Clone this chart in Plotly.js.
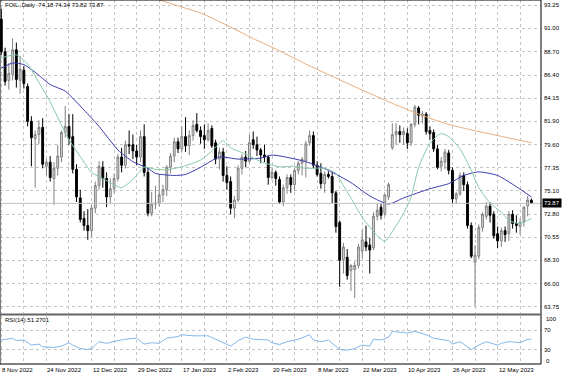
<!DOCTYPE html>
<html>
<head>
<meta charset="utf-8">
<script src="https://cdn.plot.ly/plotly-3.0.1.min.js"></script>
<style>html,body{margin:0;padding:0;background:#fff;}#chart{width:564px;height:376px;}</style>
</head>
<body>
<div id="chart"></div>
<script>
// ---- Data ----
const dateLabels = ["8 Nov 2022","24 Nov 2022","12 Dec 2022","29 Dec 2022","17 Jan 2023","2 Feb 2023","20 Feb 2023","8 Mar 2023","22 Mar 2023","10 Apr 2023","26 Apr 2023","12 May 2023"];
const labelBars = [0,12,24,36,48,60,72,84,96,108,120,132];

const open = [91.9,88.7,85.9,86.5,88.9,85.9,86.9,85.3,81.9,80.2,80.6,81.3,77.5,77.9,76.3,77.3,78.4,80.8,81.4,80.4,
77.2,74.4,72.4,71.7,71.2,73.4,75.6,77.4,76.3,74.5,75.3,76.3,78.4,77.6,79.6,79.6,79.0,78.4,80.4,76.9,
72.9,73.8,73.9,74.7,75.2,77.4,78.5,79.9,79.2,80.4,79.5,80.5,81.6,81.0,80.5,80.1,81.2,79.8,78.2,78.9,
76.6,76.0,73.4,74.2,77.3,78.4,78.0,80.1,79.6,79.1,78.6,78.4,76.4,76.9,76.2,74.0,75.4,76.4,75.7,77.1,
77.8,78.0,79.8,80.5,77.6,76.8,75.8,76.7,76.5,74.9,72.0,68.4,68.6,67.3,67.4,67.8,69.2,70.1,69.8,69.5,
72.6,73.5,72.9,74.5,79.3,80.6,80.9,80.6,80.7,79.8,81.6,83.2,82.4,82.6,81.0,80.8,79.2,77.5,77.9,78.8,
77.1,74.3,74.8,76.6,75.7,71.7,68.1,68.7,71.5,72.6,73.6,72.8,70.9,70.2,71.2,70.9,72.8,71.9,71.6,72.1,
73.6,74.18];
const high = [92.9,89.1,87.6,90.0,89.6,88.3,87.3,85.6,82.4,81.0,82.0,82.2,78.2,78.5,77.9,79.6,81.0,83.4,82.6,82.6,
77.7,75.2,73.1,73.3,73.7,76.0,78.0,78.0,76.9,76.3,76.8,78.7,79.3,80.0,81.0,80.6,79.6,81.0,81.6,77.4,
75.0,75.6,76.7,75.7,77.6,78.8,80.3,80.3,81.4,82.3,81.0,82.0,82.7,81.4,81.6,81.7,81.5,80.1,79.3,79.3,
77.5,76.5,74.6,77.6,78.7,79.0,80.6,80.9,80.4,79.3,79.6,78.6,77.3,77.1,76.5,75.7,76.7,76.7,77.3,78.0,
78.4,80.0,81.0,80.9,78.0,77.8,77.0,77.0,77.0,75.1,72.2,70.0,69.4,67.9,68.2,69.9,71.3,71.7,70.5,73.0,
73.9,73.8,74.8,75.9,81.7,81.7,81.5,81.3,81.2,81.7,83.5,83.4,82.9,82.8,81.4,81.1,79.6,78.4,79.2,79.1,
77.4,75.0,76.9,76.9,76.0,72.0,69.8,71.8,73.0,74.0,74.0,73.1,71.6,71.5,71.6,73.1,73.2,72.7,72.4,73.6,
74.6,74.34];
const low = [88.4,85.4,85.0,85.9,85.2,84.6,85.1,81.4,77.5,75.4,79.7,77.3,76.6,76.0,73.7,76.6,77.9,80.3,79.6,76.8,
74.0,72.0,71.2,70.3,70.6,72.9,75.2,75.4,73.5,73.9,74.9,76.0,76.9,77.3,78.7,78.2,77.6,77.9,76.5,72.6,
72.6,73.3,73.6,74.0,74.6,76.8,77.9,78.8,78.9,78.9,78.6,80.0,80.8,79.7,79.2,79.9,79.3,77.7,77.2,76.0,
75.2,72.8,72.4,74.0,76.7,77.4,77.8,79.2,78.5,77.8,77.9,75.7,76.2,75.6,73.8,73.6,74.8,74.9,75.1,76.7,
76.6,76.4,79.5,77.3,76.5,75.3,74.9,76.3,73.9,71.0,65.7,67.0,66.4,65.3,64.6,67.5,68.5,69.2,67.0,69.3,
72.2,72.3,72.6,74.2,79.1,79.6,79.8,79.6,79.2,79.5,81.3,81.6,81.7,80.6,80.1,78.9,77.2,77.0,77.2,76.7,
73.9,73.8,74.6,75.1,71.4,68.5,63.8,68.4,71.1,72.3,72.0,70.4,69.5,69.6,70.1,70.2,71.4,71.0,70.8,71.6,
72.6,73.82];
const close = [88.7,85.8,86.6,88.9,86.0,87.0,85.6,81.9,80.3,80.6,81.3,77.7,77.9,76.4,77.3,78.5,80.8,81.4,80.2,77.2,
74.5,72.3,71.7,71.2,73.4,75.6,77.5,76.3,74.5,75.3,76.3,78.4,77.6,79.6,79.5,79.0,78.4,80.4,76.9,72.9,
73.8,73.9,74.7,75.2,77.4,78.5,79.9,79.2,80.4,79.5,80.5,81.5,81.0,80.4,80.1,81.0,79.5,78.2,78.9,76.6,
75.9,73.4,74.2,77.3,78.4,78.0,79.8,79.6,79.1,78.6,78.4,76.4,76.9,76.3,74.0,75.4,76.4,75.7,77.1,77.8,
78.2,79.7,80.5,77.6,76.7,75.8,76.7,76.5,74.9,71.6,68.3,69.6,66.8,67.8,67.8,69.6,70.3,69.6,69.3,72.6,
73.2,72.7,74.7,75.7,80.6,80.9,80.6,80.9,79.8,81.6,83.3,82.5,82.6,80.9,80.7,79.2,77.4,78.0,78.9,77.1,
74.3,74.8,76.6,75.7,71.7,68.7,68.8,71.5,72.8,73.6,72.7,70.7,70.2,71.2,70.8,72.8,71.9,71.7,72.0,73.5,
74.2,73.87];

// short moving average (green), read at sampled bars
const maFastBars = [0,4,7,10,13,16,18,22,24,27,30,32,35,38,41,44,48,53,56,59,61,65,69,74,78,81,86,89,91,93,96,100,102,104,107,109,111,114,117,119,122,125,127,130,133,135,138,141];
const maFast = [88.1,88.4,87.5,85.7,83.8,81.5,80.1,77.9,76.9,76.3,75.7,75.4,76.2,77.4,77.2,77.15,77.45,78.1,79.0,80.0,79.3,78.7,77.95,77.45,77.5,77.3,77.3,76.8,75.6,74.4,72.5,70.7,70.15,71.1,72.9,74.5,77.4,79.75,80.7,80.4,79.2,77.1,75.4,73.9,73.0,72.2,71.9,72.4];
// medium moving average (blue)
const maMidBars = [0,3,6,9,13,17,22,26,31,35,39,41,46,49,53,58,63,69,72,77,81,87,93,98,103,107,114,119,123,127,132,137,141];
const maMid = [87.1,87.6,87.45,86.7,85.5,84.85,83.0,81.4,79.1,77.95,77.3,76.8,76.6,76.7,77.4,78.4,78.2,78.3,78.6,78.3,77.95,77.1,75.9,74.6,73.8,74.4,75.3,75.8,76.6,76.95,76.6,75.5,74.5];
// long moving average (orange)
const maSlowBars = [41,47,53,60,67,74,81,88,96,105,114,120,127,134,141];
const maSlow = [93.9,93.2,92.5,91.3,90.0,88.8,87.5,86.3,84.96,83.5,82.2,81.5,80.9,80.35,79.8];
// RSI(14)
const rsiBars = [0,2,3,4,6,8,10,11,14,16,18,19,21,23,24,26,28,31,33,36,38,40,42,44,47,48,51,55,57,61,63,65,67,71,72,74,76,77,79,82,83,85,87,90,92,94,96,98,99,101,103,104,106,108,110,111,113,115,117,119,120,122,124,125,127,129,132,133,135,138,140,141];
const rsi = [50,51.6,53.7,48.6,50,39.4,41.5,35.7,34.4,37.2,44.3,39.4,32.3,30.1,32.3,46.5,43,48.6,51.6,53.8,41.5,44.3,43,53.8,57.2,60.9,58.7,58.7,51.6,37.2,48.6,55.9,51.6,50.1,44.3,40.5,46.5,48.6,51.6,60.9,50,46.5,50,30.1,28.6,32.3,39.4,37.2,51.6,50,55.9,68,65.8,64.5,68,65.8,60.9,53.8,51.6,48.6,41.5,46.5,35.7,30.1,39.4,46.5,39.4,43,46.5,44.3,51.6,51.27];

const priceTicks = [93.25,91.00,88.70,86.40,84.15,81.90,79.60,77.35,75.10,72.80,70.55,68.30,66.00,63.75];
const lastPrice = 73.87;

// ---- Build ----
const bars = close.map((_, i) => i);
const gridBars = [];
for (let b = 0; b <= 138; b += 6) gridBars.push(b);
const FONT = "Liberation Sans, Arial, sans-serif";
const GRID = "#c4c4c4";

const traces = [
  {type:"candlestick", x:bars, open:open, high:high, low:low, close:close, xaxis:"x", yaxis:"y",
   increasing:{line:{color:"#808080", width:1}, fillcolor:"#dadada"},
   decreasing:{line:{color:"#000000", width:1}, fillcolor:"#000000"},
   whiskerwidth:0, hoverinfo:"skip", showlegend:false},
  {type:"scatter", mode:"lines", x:maSlowBars, y:maSlow, xaxis:"x", yaxis:"y",
   line:{color:"#e6ae80", width:1, shape:"spline", smoothing:0.6}, hoverinfo:"skip", showlegend:false},
  {type:"scatter", mode:"lines", x:maMidBars, y:maMid, xaxis:"x", yaxis:"y",
   line:{color:"#3a3ab0", width:1, shape:"spline", smoothing:0.6}, hoverinfo:"skip", showlegend:false},
  {type:"scatter", mode:"lines", x:maFastBars, y:maFast, xaxis:"x", yaxis:"y",
   line:{color:"#86c9a6", width:1, shape:"spline", smoothing:0.6}, hoverinfo:"skip", showlegend:false},
  {type:"scatter", mode:"lines", x:rsiBars, y:rsi, xaxis:"x2", yaxis:"y2",
   line:{color:"#84b6ea", width:1}, hoverinfo:"skip", showlegend:false}
];

const annotations = dateLabels.map((t, k) => ({
  text:t, x:labelBars[k], xref:"x2", y:-0.0165, yref:"paper", xanchor:"left", yanchor:"middle",
  showarrow:false, xshift:-1, font:{family:FONT, size:6, color:"#000"}
}));
annotations.push({text:"FOIL.,Daily  74.18 74.34 73.82 73.87", x:0, xref:"paper", xshift:3, y:0.9863, yref:"paper",
  xanchor:"left", yanchor:"middle", showarrow:false, font:{family:FONT, size:6, color:"#000"}});
annotations.push({text:"RSI(14) 51.2701", x:0, xref:"paper", xshift:3, y:0.1209, yref:"paper",
  xanchor:"left", yanchor:"middle", showarrow:false, font:{family:FONT, size:6, color:"#000"}});
annotations.push({text:"100", x:1, xref:"paper", xshift:3, y:0.1236, yref:"paper",
  xanchor:"left", yanchor:"middle", showarrow:false, font:{family:FONT, size:6, color:"#000"}});
annotations.push({text:"0", x:1, xref:"paper", xshift:3, y:0.008, yref:"paper",
  xanchor:"left", yanchor:"middle", showarrow:false, font:{family:FONT, size:6, color:"#000"}});
annotations.push({text:lastPrice.toFixed(2), x:1, xref:"paper", xshift:1, y:lastPrice, yref:"y",
  xanchor:"left", yanchor:"middle", showarrow:false, bgcolor:"#000", borderpad:1,
  font:{family:FONT, size:6, color:"#fff"}});

const layout = {
  width:564, height:376,
  margin:{l:0, r:23, t:0, b:12, pad:0},
  paper_bgcolor:"#fff", plot_bgcolor:"#fff",
  showlegend:false,
  xaxis:{domain:[0,1], range:[-0.35,143.55], anchor:"y", rangeslider:{visible:false},
    tickmode:"array", tickvals:gridBars, showticklabels:false, ticks:"",
    showgrid:true, gridcolor:GRID, griddash:"dot", gridwidth:1, zeroline:false, showline:false, fixedrange:true},
  yaxis:{domain:[0.1401,1], range:[63.14,93.77], anchor:"x", side:"right",
    tickmode:"array", tickvals:priceTicks, ticktext:priceTicks.map(v=>v.toFixed(2)),
    tickfont:{family:FONT, size:6, color:"#000"}, ticks:"", ticklabelstandoff:2,
    showgrid:true, gridcolor:GRID, griddash:"dot", gridwidth:1, zeroline:false, showline:false},
  xaxis2:{domain:[0,1], range:[-0.35,143.55], anchor:"y2", matches:"x",
    tickmode:"array", tickvals:gridBars, showticklabels:false, ticks:"",
    showgrid:true, gridcolor:GRID, griddash:"dot", gridwidth:1, zeroline:false, showline:false},
  yaxis2:{domain:[0,0.1319], range:[0,100], anchor:"x2", side:"right",
    tickmode:"array", tickvals:[70,30], ticktext:["70","30"],
    tickfont:{family:FONT, size:6, color:"#000"}, ticks:"", ticklabelstandoff:2,
    showgrid:true, gridcolor:GRID, griddash:"dot", gridwidth:1, zeroline:false, showline:false},
  shapes:[
    {type:"line", xref:"paper", yref:"y", x0:0, x1:1, y0:lastPrice, y1:lastPrice, line:{color:"#c0c0c0", width:1}},
    {type:"rect", xref:"paper", yref:"paper", x0:0, x1:1, y0:0, y1:1, line:{color:"#000", width:1}},
    {type:"line", xref:"paper", yref:"paper", x0:0, x1:1, y0:0.136, y1:0.136, line:{color:"#666", width:2}}
  ],
  annotations:annotations
};

Plotly.newPlot("chart", traces, layout, {staticPlot:true, displayModeBar:false});
</script>
</body>
</html>
